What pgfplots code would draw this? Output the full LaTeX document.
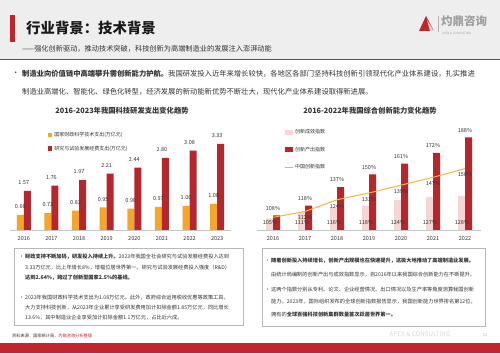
\documentclass[border=0pt]{standalone}
\usepackage{fontspec}
\setmainfont{Noto Sans CJK SC}
\usepackage{pgfplots}
\pgfplotsset{compat=1.18}
\usetikzlibrary{shadows}
\XeTeXlinebreaklocale "zh"
\definecolor{brandred}{HTML}{C0262C}
\definecolor{cOrange}{HTML}{F4A62A}
\definecolor{cRed}{HTML}{B5272D}
\definecolor{cPink}{HTML}{F5D5D5}
\definecolor{cLine}{HTML}{F2B441}
\definecolor{txt}{HTML}{333333}
\newcommand\fs[1]{\fontsize{#1}{#1}\selectfont}
\begin{document}
\begin{tikzpicture}[x=1pt,y=1pt]
\path[use as bounding box] (0,0) rectangle (500,353);
\fill[white] (0,0) rectangle (500,353);
% header
\fill[gray!13] (0,294) rectangle (500,353);
\draw[brandred, line width=1pt] (0,293) -- (500,293);
\fill[brandred] (10,311) rectangle (15,338);
\node[anchor=west, inner sep=0pt, text=black!90] at (26,325) {\fs{14.4}\bfseries 行业背景：技术背景};
\node[anchor=west, inner sep=0pt, text=txt] at (22,304) {\fs{7.2}——强化创新驱动，推动技术突破，科技创新为高端制造业的发展注入澎湃动能};
% logo
\fill[brandred] (426,337) -- (419,322) -- (434,322) -- cycle;
\fill[gray!35] (427,333) -- (430,322) -- (434,322) -- cycle;
\draw[gray!60, line width=0.5pt] (438,321) -- (438,337);
\node[anchor=west, inner sep=0pt, text=gray!75] at (441,332) {\fs{11.5}\bfseries 灼鼎咨询};
\node[anchor=west, inner sep=0pt, text=gray!70] at (442,320) {\fs{3}APEX \& CONSULTING};
% intro bullet
\node[anchor=west, inner sep=0pt, text=txt] at (12,279) {\fs{7.3}•};
\node[anchor=west, inner sep=0pt, text=txt] at (22,279) {\fs{7.3}\textbf{制造业向价值链中高端攀升需创新能力护航。}我国研发投入近年来增长较快，各地区各部门坚持科技创新引领现代化产业体系建设，扎实推进};
\node[anchor=west, inner sep=0pt, text=txt] at (22,261) {\fs{7.3}制造业高端化、智能化、绿色化转型，经济发展的新动能新优势不断壮大，现代化产业体系建设取得新进展。};
% chart titles
\node[inner sep=0pt, text=txt] at (122,242) {\fs{7.3}\bfseries 2016-2023年我国科技研发支出变化趋势};
\node[inner sep=0pt, text=txt] at (370,242) {\fs{7.3}\bfseries 2016-2022年我国综合创新能力变化趋势};

% left chart
\begin{axis}[
  at={(10pt,123pt)}, anchor=south west,
  width=221pt, height=100pt, scale only axis,
  xmin=-0.5, xmax=7.5, ymin=0.1, ymax=3.85,
  axis x line*=bottom, axis y line=none,
  x axis line style={draw=gray!45, line width=0.6pt, -},
  xtick={0,1,2,3,4,5,6,7},
  xticklabels={2016,2017,2018,2019,2020,2021,2022,2023},
  major tick length=0pt,
  xticklabel style={font=\fs{5.5}, text=txt, yshift=-2.5pt},
  ytick=\empty,
  clip=false,
  legend style={at={(0.17,1.0)}, anchor=north west, draw=none, fill=none, font=\fs{5}, row sep=4pt, inner sep=0pt, text=txt},
  legend cell align=left,
  every node near coord/.append style={font=\fs{5.5}, text=txt, inner sep=1pt, anchor=south, yshift=5pt},
  /pgf/number format/fixed, /pgf/number format/fixed zerofill, /pgf/number format/precision=2, /pgf/number format/assume math mode=true,
]
\addplot[ybar, bar width=7pt, fill=cOrange, draw=none, bar shift=-3.5pt,
  legend image code/.code={\fill[cOrange] (0pt,-2pt) rectangle (4.5pt,2.5pt);}]
  coordinates {(0,0.66) (1,0.73) (2,0.83) (3,0.95) (4,0.90) (5,0.97) (6,1.00) (7,1.08)};
\addlegendentry{国家财政科学技术支出(万亿元)}
\addplot[ybar, bar width=7pt, fill=cRed, draw=none, bar shift=3.5pt, nodes near coords,
  legend image code/.code={\fill[cRed] (0pt,-2pt) rectangle (4.5pt,2.5pt);}]
  coordinates {(0,1.57) (1,1.76) (2,1.97) (3,2.21) (4,2.44) (5,2.80) (6,3.08) (7,3.33)};
\addlegendentry{研究与试验发展经费支出(万亿元)}
\addplot[draw=none, sharp plot, mark=none, forget plot, nodes near coords,
  every node near coord/.append style={xshift=-3.5pt}]
  coordinates {(0,0.66) (1,0.73) (2,0.83) (3,0.95) (4,0.90) (5,0.97) (6,1.00) (7,1.08)};
\end{axis}

% right chart
\begin{axis}[
  at={(257pt,123pt)}, anchor=south west,
  width=224pt, height=100pt, scale only axis,
  xmin=-0.5, xmax=6.5, ymin=93, ymax=195.6,
  axis x line*=bottom, axis y line=none,
  x axis line style={draw=gray!45, line width=0.6pt, -},
  xtick={0,1,2,3,4,5,6},
  xticklabels={2016,2017,2018,2019,2020,2021,2022},
  major tick length=0pt,
  xticklabel style={font=\fs{5.5}, text=txt, yshift=-2.5pt},
  ytick=\empty,
  clip=false,
  legend style={at={(0.12,1.03)}, anchor=north west, draw=none, fill=none, font=\fs{5}, row sep=8pt, inner sep=0pt, text=txt},
  legend cell align=left,
  every node near coord/.append style={font=\fs{5.5}, text=txt, inner sep=1pt},
  /pgf/number format/assume math mode=true,
]
\addplot[ybar, bar width=7pt, fill=cPink, draw=none, bar shift=-3.5pt,
  legend image code/.code={\fill[cPink] (0pt,-2.5pt) rectangle (8pt,2.5pt);}]
  coordinates {(0,105) (1,111) (2,116) (3,118) (4,124) (5,127) (6,128)};
\addlegendentry{创新成效指数}
\addplot[ybar, bar width=7pt, fill=cRed, draw=none, bar shift=3.5pt,
  nodes near coords={\pgfmathprintnumber[fixed,precision=0]{\pgfplotspointmeta}\%},
  every node near coord/.append style={anchor=south, yshift=4pt},
  legend image code/.code={\fill[cRed] (0pt,-2.5pt) rectangle (8pt,2.5pt);}]
  coordinates {(0,108) (1,118) (2,137) (3,150) (4,161) (5,172) (6,188)};
\addlegendentry{创新产出指数}
\addplot[cLine, line width=1pt, sharp plot, mark=none,
  legend image code/.code={\draw[cLine, line width=1pt] (0pt,0pt) -- (8pt,0pt);}]
  coordinates {(0,106) (1,112) (2,124) (3,131) (4,139) (5,147) (6,156)};
\addlegendentry{中国创新指数}
\addplot[draw=none, sharp plot, mark=none, forget plot,
  nodes near coords={\pgfmathprintnumber[fixed,precision=0]{\pgfplotspointmeta}\%},
  every node near coord/.append style={anchor=north, yshift=-3pt}]
  coordinates {(1,112) (2,124) (3,131) (4,139) (5,147) (6,156)};
\addplot[draw=none, sharp plot, mark=none, forget plot, point meta=explicit,
  nodes near coords={\pgfmathprintnumber[fixed,precision=0]{\pgfplotspointmeta}\%},
  every node near coord/.append style={anchor=center, xshift=-3pt}]
  coordinates {(0,101) [105] (1,101) [111] (2,101) [116] (3,101) [118] (4,101) [124] (5,101) [127] (6,101) [128]};
\end{axis}

% text boxes
\draw[gray!55, line width=0.9pt, fill=white, drop shadow={opacity=0.2, shadow xshift=1pt, shadow yshift=-1pt}] (14,28) rectangle (243,105);
\draw[gray!55, line width=0.9pt, fill=white, drop shadow={opacity=0.2, shadow xshift=1pt, shadow yshift=-1pt}] (262,27) rectangle (485,105);
\begin{scope}[every node/.style={anchor=west, inner sep=0pt, text=txt}]
\node at (19,96) {\fs{5.2}•};
\node at (25,96) {\fs{5.2}\textbf{财政支持不断加码，研发投入持续上升。}2023年我国全社会研究与试验发展经费投入达到};
\node at (25,85) {\fs{5.2}3.33万亿元，比上年增长8\%，增幅位居世界第一。研究与试验发展经费投入强度（R\&D）};
\node at (25,75) {\fs{5.2}\textbf{达到2.64\%，跨过了创新型国家2.5\%的基线。}};
\node at (19,55) {\fs{5.2}•};
\node at (25,55) {\fs{5.2}2023年我国财政科学技术支出为1.08万亿元。此外，政府综合运用税收优惠等政策工具，};
\node at (25,45) {\fs{5.2}大力支持科技创新，从2023年企业累计享受研发费用加计扣除金额1.85万亿元，同比增长};
\node at (25,35) {\fs{5.2}13.6\%，其中制造业企业享受加计扣除金额1.1万亿元，占比近六成。};
\node at (265,92) {\fs{5.2}•};
\node at (271,92) {\fs{5.2}\textbf{随着创新投入持续增长，创新产出规模也在快速提升，这极大地推动了高端制造业发展。}};
\node at (271,78) {\fs{5.2}由统计局编制的创新产出与成效指数显示，自2016年以来我国综合创新能力在不断提升。};
\node at (265,63) {\fs{5.2}•};
\node at (271,63) {\fs{5.2}这两个指数分别从专利、论文、企业经营情况、出口情况以及生产率等角度测算我国创新};
\node at (271,51) {\fs{5.2}能力。2023年，国际组织发布的全球创新指数报告显示，我国创新能力世界排名第12位，};
\node at (271,38) {\fs{5.2}拥有的\textbf{全球百强科技创新集群数量首次跃居世界第一。}};
\node at (12,17) {\fs{4.2}资料来源：国家统计局，\textcolor{brandred}{灼鼎咨询分析整理}};
\end{scope}
\node[inner sep=0pt, text=gray!30] at (420,19) {\fs{6.3}APEX \& CONSULTING};
\node[inner sep=0pt, text=gray!60] at (485,18) {\fs{4}12};
\fill[brandred] (0,0) rectangle (500,10);
\end{tikzpicture}
\end{document}
